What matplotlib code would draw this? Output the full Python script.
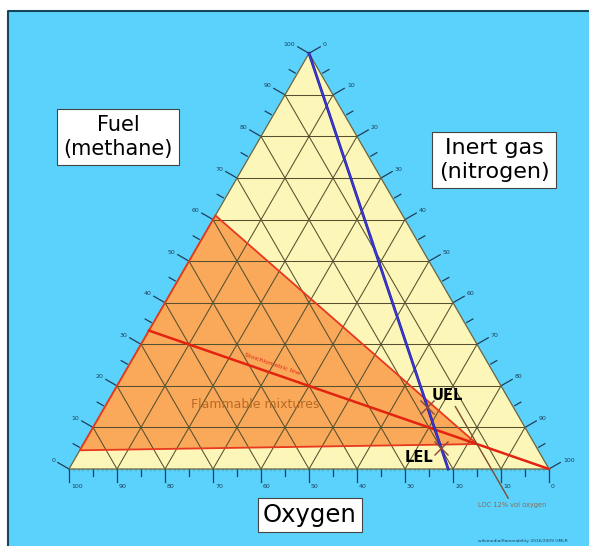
import numpy as np
import matplotlib
matplotlib.use('Agg')
import matplotlib.pyplot as plt
from matplotlib.patches import Polygon, Rectangle

# ---------------- data ----------------
major_ticks = list(range(0, 101, 10))
minor_ticks = list(range(5, 100, 10))
unit_ticks = list(range(0, 101, 1))
grid_levels = list(range(10, 100, 10))

# flammable region vertices (fuel %, oxygen %, nitrogen %)
flam_fuel = [61, 6, 4.5]
flam_oxy = [39, 12, 95.5]
flam_nit = [0, 82, 0]

# stoichiometric line CH4 + 2 O2
stoich_fuel = [33.3, 0]
stoich_oxy = [66.7, 0]
stoich_nit = [0, 100]

# air line (pure fuel -> air 21% O2)
air_fuel = [100, 0]
air_oxy = [0, 21]
air_nit = [0, 79]
air_o2_fraction = 0.21

uel_in_air = 15
lel_in_air = 5
loc_oxygen = 12
loc_fuel_range = [15, -7]

# ---------------- helpers ----------------
S3 = np.sqrt(3) / 2


def tern(f, o, n):
    f = np.asarray(f, float)
    n = np.asarray(n, float)
    return (n + f / 2) / 100.0, f / 100.0 * S3


PX = 1 / 480.0  # one pixel in data units (side of triangle = 1)

fig = plt.figure(figsize=(5.89, 5.46), dpi=100, facecolor='white')
ax = fig.add_axes([0, 0, 1, 1])
ax.set_xlim(-69 * PX, (589 - 69) * PX)
ax.set_ylim((469 - 546) * PX, 469 * PX)
ax.axis('off')


def P(px, py):
    return (px - 69) * PX, (469 - py) * PX


# background panel
x0, y0 = P(8, 546)
x1, y1 = P(589, 11)
ax.add_patch(Rectangle((x0, y0), x1 - x0, y1 - y0, fc='#5bd2fc', ec='none', zorder=0))
ax.plot([x0, x0, x1], [y0, y1, y1], color='#16465a', lw=1.5, zorder=0.5, solid_capstyle='butt')

# triangle
tx, ty = tern([100, 0, 0], [0, 100, 0], [0, 0, 100])
ax.add_patch(Polygon(np.c_[tx, ty], closed=True, fc='#fdf6b9', ec='none', zorder=1))

# flammable region
fx, fy = tern(flam_fuel, flam_oxy, flam_nit)
ax.add_patch(Polygon(np.c_[fx, fy], closed=True, fc='#faa85a', ec='none', zorder=2))

# grid
gc = '#55502e'
for k in grid_levels:
    x, y = tern([k, k], [100 - k, 0], [0, 100 - k])
    ax.plot(x, y, color=gc, lw=0.75, zorder=3)
    x, y = tern([100 - k, 0], [k, k], [0, 100 - k])
    ax.plot(x, y, color=gc, lw=0.75, zorder=3)
    x, y = tern([100 - k, 0], [0, 100 - k], [k, k])
    ax.plot(x, y, color=gc, lw=0.75, zorder=3)

ax.add_patch(Polygon(np.c_[tx, ty], closed=True, fc='none', ec='#6a6440', lw=0.9, zorder=3.5))

# flammable boundary
ax.add_patch(Polygon(np.c_[fx, fy], closed=True, fc='none', ec='#e8381e', lw=1.3, zorder=4))

# stoichiometric line
sx, sy = tern(stoich_fuel, stoich_oxy, stoich_nit)
ax.plot(sx, sy, color='#e3230f', lw=1.8, zorder=5)

# LOC leader line (constant oxygen)
lf = np.array(loc_fuel_range, float)
lx, ly = tern(lf, [loc_oxygen] * 2, 100 - loc_oxygen - lf)
ax.plot(lx, ly, color='#7d4b2e', lw=1.0, zorder=5)

# air line
ax_, ay_ = tern(air_fuel, air_oxy, air_nit)
ax.plot(ax_, ay_, color='#22229a', lw=2.0, zorder=6)
ax.plot(ax_, ay_, color='#3d3de6', lw=0.9, zorder=6.1)

# UEL / LEL crosses
for fv in (uel_in_air, lel_in_air):
    cx, cy = tern(fv, (100 - fv) * air_o2_fraction, (100 - fv) * (1 - air_o2_fraction))
    ax.plot([cx], [cy], marker='x', ms=10, mew=1.0, color='#8a4a3a', zorder=7)

# ticks
tcol = '#1e3f5a'
c30, s30 = np.cos(np.pi / 6), np.sin(np.pi / 6)
axes_spec = [
    ('left', lambda k: tern(k, 100 - k, 0), (-c30, s30)),
    ('right', lambda k: tern(100 - k, 0, k), (c30, s30)),
    ('bottom', lambda k: tern(0, k, 100 - k), (0, -1)),
]
for name, fn, (dx, dy) in axes_spec:
    for k in major_ticks:
        bx, by = fn(k)
        L = 13 * PX
        ax.plot([bx, bx + dx * L], [by, by + dy * L], color=tcol, lw=0.9, zorder=2)
        if name == 'left':
            ax.text(bx + dx * 16 * PX, by + dy * 16 * PX + 1 * PX, str(k), ha='right', va='center',
                    fontsize=4.5, color=tcol)
        elif name == 'right':
            ax.text(bx + dx * 16 * PX, by + dy * 16 * PX + 1 * PX, str(k), ha='left', va='center',
                    fontsize=4.5, color=tcol)
        else:
            ax.text(bx + 2 * PX, by - 17 * PX, str(k), ha='left', va='center',
                    fontsize=4.5, color=tcol)
    for k in minor_ticks:
        bx, by = fn(k)
        a, b = (2 * PX, 9 * PX) if name != 'bottom' else (0, 7 * PX)
        ax.plot([bx + dx * a, bx + dx * b], [by + dy * a, by + dy * b], color=tcol, lw=0.9, zorder=2)
    if name == 'bottom':
        for k in unit_ticks:
            bx, by = fn(k)
            ax.plot([bx, bx], [by, by - 2 * PX], color=tcol, lw=0.35, alpha=0.7, zorder=2)

# labels
box = dict(boxstyle='square,pad=0.3', fc='white', ec='#444444', lw=0.8)
ax.text(*P(118, 137), 'Fuel\n(methane)', fontsize=15, ha='center', va='center',
        bbox=box, linespacing=1.2, zorder=10)
ax.text(*P(494, 160), 'Inert gas\n(nitrogen)', fontsize=16, ha='center', va='center',
        bbox=box, linespacing=1.2, zorder=10)
ax.text(*P(310, 515), 'Oxygen', fontsize=17.5, ha='center', va='center',
        bbox=dict(boxstyle='square,pad=0.2', fc='white', ec='#444444', lw=0.8), zorder=10)

ax.text(*P(432, 396), 'UEL', fontsize=10.5, fontweight='bold', ha='left', va='center', zorder=10)
ax.text(*P(405, 458), 'LEL', fontsize=10.5, fontweight='bold', ha='left', va='center', zorder=10)

ax.text(*P(255, 405), 'Flammable mixtures', fontsize=9, color='#b96a22', ha='center', va='center',
        zorder=9)

ang_s = np.degrees(np.arctan2(sy[1] - sy[0], sx[1] - sx[0]))
ax.text(*P(272, 364), 'Stoichiometric line', fontsize=4.5, color='#e3230f', rotation=ang_s,
        ha='center', va='center', rotation_mode='anchor', zorder=9)
ang_a = np.degrees(np.arctan2(ay_[1] - ay_[0], ax_[1] - ax_[0])) + 180
ax.text(*P(374, 243), 'air line', fontsize=4.5, color='#3b3be0', rotation=ang_a,
        ha='center', va='center', rotation_mode='anchor', zorder=9)

ax.text(*P(478, 505), 'LOC 12% vol oxygen', fontsize=4.8, color='#8a6a55', ha='left', va='center',
        zorder=9)
ax.text(*P(478, 541), 'wikimedia/flammability 2016/2009 GMLR', fontsize=3.2, color='#1e3f5a',
        ha='left', va='center', zorder=9)

fig.savefig('out.png', dpi=100, facecolor='white')
